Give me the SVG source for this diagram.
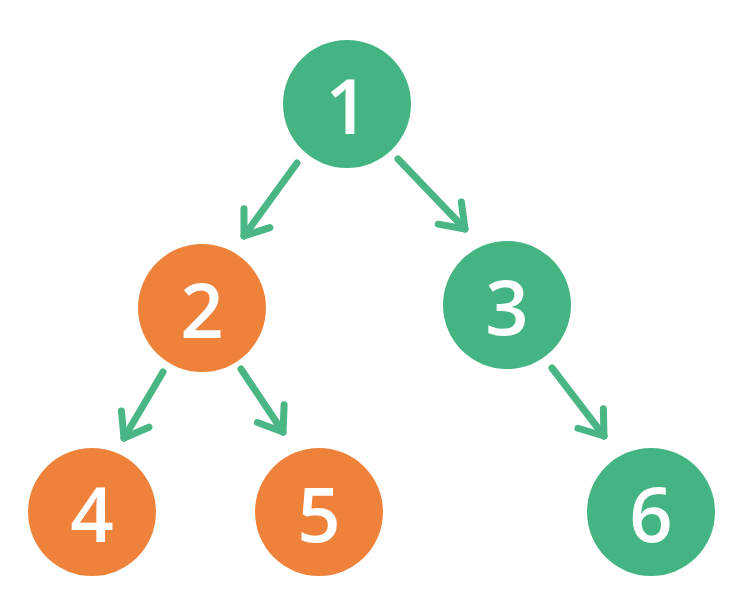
<svg xmlns="http://www.w3.org/2000/svg" width="730" height="605" viewBox="0 0 730 605">
  <style>
    .g { fill: #44b582; }
    .o { fill: #ef823b; }
    .lbl { fill: #ffffff; font-family: "Open Sans", "Liberation Sans", sans-serif; font-size: 76px; font-weight: 600; text-anchor: middle; dominant-baseline: central; }
    .edge { stroke: #4ab585; stroke-width: 7; stroke-linecap: round; fill: none; marker-end: url(#arr); }
  </style>
  <defs>
    <marker id="arr" markerUnits="userSpaceOnUse" viewBox="-30 -20 34 40" refX="0" refY="0" markerWidth="34" markerHeight="40" orient="auto">
      <polyline points="-22,-16 0,0 -22,16" fill="none" stroke="#4ab585" stroke-width="7" stroke-linecap="round" stroke-linejoin="round"/>
    </marker>
  </defs>
  <rect width="730" height="605" fill="#ffffff"/>
  <g id="connectors">
    <line class="edge" x1="297" y1="163" x2="244" y2="236"/>
    <line class="edge" x1="398" y1="159" x2="465" y2="229"/>
    <line class="edge" x1="163" y1="372" x2="124" y2="438"/>
    <line class="edge" x1="241" y1="369" x2="283" y2="432"/>
    <line class="edge" x1="552" y1="368" x2="604" y2="436"/>
  </g>
  <g id="node1"><circle class="g" cx="347" cy="104" r="64"/><text class="lbl" x="347" y="104">1</text></g>
  <g id="node2"><circle class="o" cx="202" cy="308" r="64"/><text class="lbl" x="202" y="308">2</text></g>
  <g id="node3"><circle class="g" cx="507" cy="305" r="64"/><text class="lbl" x="507" y="305">3</text></g>
  <g id="node4"><circle class="o" cx="92" cy="512" r="64"/><text class="lbl" x="92" y="512">4</text></g>
  <g id="node5"><circle class="o" cx="319" cy="512" r="64"/><text class="lbl" x="319" y="512">5</text></g>
  <g id="node6"><circle class="g" cx="651" cy="512" r="64"/><text class="lbl" x="651" y="512">6</text></g>
</svg>
